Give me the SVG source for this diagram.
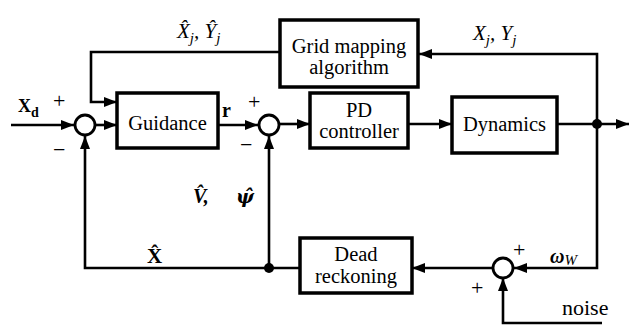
<svg xmlns="http://www.w3.org/2000/svg" width="630" height="325" viewBox="0 0 630 325">
<style>
.box{fill:#fff;stroke:#000;stroke-width:3.5}
.sum{fill:#fff;stroke:#000;stroke-width:2.8}
.ln{fill:none;stroke:#000;stroke-width:2.6}
.t{font-family:"Liberation Serif","Times New Roman",serif;font-size:20.5px;fill:#000;text-anchor:middle}
.m{font-family:"Liberation Serif","DejaVu Serif",serif;fill:#000}
.s{font-family:"Liberation Serif",serif;font-size:22px;fill:#000}
</style>
<defs>
<marker id="ah" markerUnits="userSpaceOnUse" markerWidth="14" markerHeight="10" refX="13" refY="5" orient="auto">
<path d="M0,0 L13,5 L0,10 z" fill="#000"/>
</marker>
</defs>
<g id="connectors">
<path class="ln" d="M11,125 H74" marker-end="url(#ah)"/>
<path class="ln" d="M95,125 H117" marker-end="url(#ah)"/>
<path class="ln" d="M218,125 H258" marker-end="url(#ah)"/>
<path class="ln" d="M279,124 H310" marker-end="url(#ah)"/>
<path class="ln" d="M408,124 H452" marker-end="url(#ah)"/>
<path class="ln" d="M557,124 H629" marker-end="url(#ah)"/>
<path class="ln" d="M597,124 V54 H419" marker-end="url(#ah)"/>
<path class="ln" d="M280,52 H91 V102 H117" marker-end="url(#ah)"/>
<path class="ln" d="M597,124 V268 H514" marker-end="url(#ah)"/>
<path class="ln" d="M602,323 H503 V278" marker-end="url(#ah)"/>
<path class="ln" d="M493,268 H412" marker-end="url(#ah)"/>
<path class="ln" d="M300,268 H85 V136" marker-end="url(#ah)"/>
<path class="ln" d="M269,268 V136" marker-end="url(#ah)"/>
<circle cx="597" cy="124" r="5"/>
<circle cx="269" cy="268" r="5"/>
</g>
<g id="sum1"><circle class="sum" cx="85" cy="125" r="10"/></g>
<g id="sum2"><circle class="sum" cx="269" cy="125" r="10"/></g>
<g id="sum3"><circle class="sum" cx="503" cy="268" r="10"/></g>
<g id="guidance">
<rect class="box" x="117" y="93" width="101" height="55"/>
<text class="t" x="167.5" y="130">Guidance</text>
</g>
<g id="grid">
<rect class="box" x="280" y="20" width="138" height="67"/>
<text class="t" x="349" y="53">Grid mapping</text>
<text class="t" x="349" y="74">algorithm</text>
</g>
<g id="pd">
<rect class="box" x="310" y="93" width="98" height="55"/>
<text class="t" x="359" y="117">PD</text>
<text class="t" x="359" y="138">controller</text>
</g>
<g id="dynamics">
<rect class="box" x="452" y="97" width="105" height="56"/>
<text class="t" x="504.5" y="131">Dynamics</text>
</g>
<g id="dead">
<rect class="box" x="300" y="238" width="112" height="55"/>
<text class="t" x="356" y="261">Dead</text>
<text class="t" x="356" y="283">reckoning</text>
</g>
<g id="labels">
<text class="m" x="177" y="38" font-size="21" font-style="italic">X̂<tspan font-size="15" dy="5">j</tspan><tspan dy="-5">, Ŷ</tspan><tspan font-size="15" dy="5">j</tspan></text>
<text class="m" x="473" y="40" font-size="21" font-style="italic">X<tspan font-size="15" dy="5">j</tspan><tspan dy="-5">, Y</tspan><tspan font-size="15" dy="5">j</tspan></text>
<text class="m" x="18" y="112" font-size="18" font-weight="bold">X<tspan font-size="14" dy="5">d</tspan></text>
<text class="s" x="53" y="108">+</text>
<text class="s" x="53" y="157">−</text>
<text class="m" x="222" y="117" font-size="20" font-weight="bold">r</text>
<text class="s" x="248" y="109">+</text>
<text class="s" x="240" y="152">−</text>
<text class="m" x="193" y="203" font-size="20" font-weight="bold" font-style="italic">V̂,<tspan x="236" font-family="DejaVu Serif" font-size="19">ψ̂</tspan></text>
<text class="m" x="147" y="263" font-size="21" font-weight="bold">X̂</text>
<text class="m" x="550" y="263" font-size="20" font-weight="bold" font-style="italic">ω<tspan font-weight="normal" font-size="15" dy="2">W</tspan></text>
<text class="s" x="513" y="257">+</text>
<text class="s" x="471" y="295">+</text>
<text class="s" x="562" y="315" font-size="23">noise</text>
</g>
</svg>
